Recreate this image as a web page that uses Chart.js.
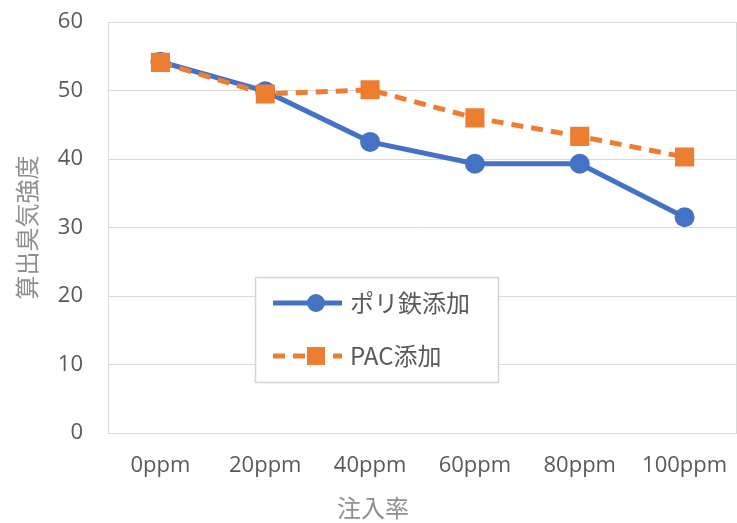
<!DOCTYPE html>
<html>
<head>
<meta charset="utf-8">
<script src="https://cdn.jsdelivr.net/npm/chart.js@4/dist/chart.umd.min.js"></script>
<style>
  html, body { margin: 0; padding: 0; background: #ffffff; overflow: hidden; }
  #wrap { position: relative; width: 737px; height: 523px; }
</style>
</head>
<body>
<div id="wrap"><canvas id="c" width="737" height="523"></canvas></div>
<script>
// Injection rate categories and measured odour intensity for each coagulant
const categories = ['0ppm', '20ppm', '40ppm', '60ppm', '80ppm', '100ppm'];
const polyIronValues = [54.2, 49.9, 42.5, 39.3, 39.3, 31.5];
const pacValues = [54.1, 49.5, 50.1, 46.0, 43.3, 40.3];
const seriesNames = ['ポリ鉄添加', 'PAC添加'];
const yTicks = [0, 10, 20, 30, 40, 50, 60];
const xTitle = '注入率';
const yTitle = '算出臭気強度';

const BLUE = '#4472C4';
const ORANGE = '#ED7D31';
const TICK_COLOR = '#595959';
const TITLE_COLOR = '#8f8f8f';
const GRID = '#d9d9d9';
const LATIN = '"Open Sans", "Noto Sans", sans-serif';
const CJK = '"Noto Sans CJK JP", "Noto Sans", sans-serif';

// Frame, axis titles and the boxed legend inside the plot
const decorations = {
  id: 'decorations',
  beforeDatasetsDraw(chart) {
    const { ctx, chartArea: a } = chart;
    ctx.save();
    ctx.strokeStyle = GRID;
    ctx.lineWidth = 1;
    ctx.strokeRect(a.left + 0.5, a.top + 0.5, a.right - a.left - 1, a.bottom - a.top);
    ctx.restore();
  },
  afterDraw(chart) {
    const { ctx, chartArea: a } = chart;
    const xs = chart.scales.x;
    ctx.save();
    // axis titles
    ctx.fillStyle = TITLE_COLOR;
    ctx.font = '24px ' + CJK;
    ctx.textAlign = 'center';
    ctx.textBaseline = 'middle';
    ctx.fillText(xTitle, xs.getPixelForValue(2) + 3, 508);
    ctx.save();
    ctx.translate(27, (a.top + a.bottom) / 2);
    ctx.rotate(-Math.PI / 2);
    ctx.fillText(yTitle, 0, 0);
    ctx.restore();

    // legend box
    const bx = 255, by = 277, bw = 243, bh = 105;
    ctx.fillStyle = '#ffffff';
    ctx.fillRect(bx, by, bw, bh);
    ctx.strokeStyle = '#d4d4d4';
    ctx.lineWidth = 1.5;
    ctx.strokeRect(bx + 0.5, by + 0.5, bw, bh);

    const rows = [303, 356];
    chart.data.datasets.slice().sort((p, q) => p.legendIndex - q.legendIndex).forEach((ds, i) => {
      const y = rows[i];
      ctx.strokeStyle = ds.borderColor;
      ctx.lineWidth = ds.borderWidth;
      ctx.setLineDash(ds.borderDash || []);
      ctx.beginPath();
      ctx.moveTo(273, y);
      ctx.lineTo(342, y);
      ctx.stroke();
      ctx.setLineDash([]);
      ctx.fillStyle = ds.pointBackgroundColor;
      if (ds.pointStyle === 'circle') {
        ctx.beginPath();
        ctx.arc(316, y, 9, 0, Math.PI * 2);
        ctx.fill();
      } else {
        ctx.fillRect(316 - 9, y - 9, 18, 18);
      }
      ctx.fillStyle = TICK_COLOR;
      ctx.font = '24px ' + CJK;
      ctx.textAlign = 'left';
      ctx.textBaseline = 'middle';
      ctx.fillText(ds.label, 350, y);
    });
    ctx.restore();
  }
};

new Chart(document.getElementById('c'), {
  type: 'line',
  data: {
    labels: categories,
    datasets: [
      {
        label: seriesNames[1],
        legendIndex: 1,
        data: pacValues,
        borderColor: ORANGE,
        backgroundColor: ORANGE,
        pointBackgroundColor: ORANGE,
        pointBorderColor: ORANGE,
        borderWidth: 5,
        borderDash: [12, 8],
        pointStyle: 'rect',
        pointRadius: 13.5,
        pointBorderWidth: 0,
        tension: 0,
        order: 0
      },
      {
        label: seriesNames[0],
        legendIndex: 0,
        data: polyIronValues,
        borderColor: BLUE,
        backgroundColor: BLUE,
        pointBackgroundColor: BLUE,
        pointBorderColor: BLUE,
        borderWidth: 5,
        pointStyle: 'circle',
        pointRadius: 10,
        pointBorderWidth: 0,
        tension: 0,
        order: 1
      }
    ]
  },
  options: {
    responsive: false,
    animation: false,
    layout: { autoPadding: false, padding: { top: 22, right: -3, left: 0, bottom: 0 } },
    plugins: {
      legend: { display: false },
      tooltip: { enabled: false }
    },
    scales: {
      x: {
        offset: true,
        grid: { display: false, drawTicks: true, tickLength: 20 },
        border: { display: false },
        ticks: {
          color: TICK_COLOR,
          font: { family: LATIN, size: 22 },
          padding: 0,
          autoSkip: false,
          maxRotation: 0
        },
        afterFit(scale) {
          scale.height = 90;
          scale.paddingLeft = 0;
          scale.paddingRight = 0;
        }
      },
      y: {
        min: yTicks[0],
        max: yTicks[yTicks.length - 1],
        afterBuildTicks(scale) { scale.ticks = yTicks.map(v => ({ value: v })); },
        grid: { color: GRID, lineWidth: 1, drawTicks: false },
        border: { display: false },
        ticks: {
          color: TICK_COLOR,
          font: { family: LATIN, size: 22 },
          padding: 25
        },
        afterFit(scale) {
          scale.width = 108;
          scale.paddingTop = 0;
          scale.paddingBottom = 0;
        }
      }
    }
  },
  plugins: [decorations]
});
</script>
</body>
</html>
